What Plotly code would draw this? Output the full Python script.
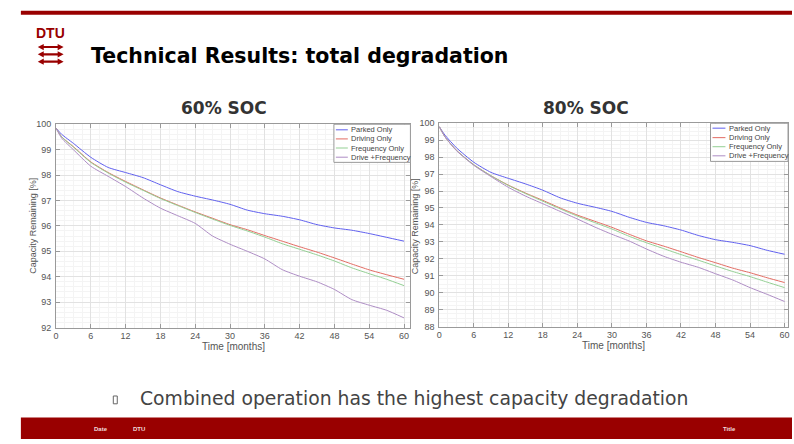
import plotly.graph_objects as go

# ---------------- data ----------------
months = [0, 1, 3, 6, 9, 12, 15, 18, 21, 24, 27, 30, 33, 36, 39, 42, 45, 48, 51, 54, 57, 60]

series_names = ["Parked Only", "Driving Only", "Frequency Only", "Drive +Frequency"]

soc60_parked = [99.85, 99.6, 99.25, 98.7, 98.3, 98.1, 97.9, 97.62, 97.35, 97.17, 97.02, 96.85,
                96.62, 96.48, 96.38, 96.24, 96.05, 95.92, 95.83, 95.7, 95.55, 95.4]
soc60_driving = [99.85, 99.5, 99.12, 98.52, 98.1, 97.75, 97.42, 97.1, 96.82, 96.55, 96.3, 96.05,
                 95.85, 95.62, 95.4, 95.18, 94.97, 94.74, 94.5, 94.27, 94.08, 93.9]
soc60_frequency = [99.85, 99.5, 99.1, 98.5, 98.08, 97.72, 97.4, 97.08, 96.8, 96.53, 96.27, 96.02,
                   95.8, 95.56, 95.3, 95.08, 94.86, 94.62, 94.35, 94.12, 93.9, 93.65]
soc60_combined = [99.85, 99.45, 99.0, 98.35, 97.95, 97.55, 97.1, 96.7, 96.4, 96.1, 95.6, 95.28,
                  95.0, 94.7, 94.28, 94.02, 93.8, 93.5, 93.1, 92.88, 92.68, 92.38]

soc80_parked = [99.8, 99.3, 98.55, 97.7, 97.1, 96.75, 96.42, 96.05, 95.6, 95.28, 95.05, 94.8,
                94.45, 94.15, 93.95, 93.7, 93.38, 93.13, 92.97, 92.78, 92.5, 92.27]
soc80_driving = [99.8, 99.2, 98.4, 97.55, 96.9, 96.35, 95.88, 95.45, 95.0, 94.58, 94.22, 93.86,
                 93.45, 93.06, 92.75, 92.42, 92.08, 91.77, 91.45, 91.18, 90.88, 90.6]
soc80_frequency = [99.8, 99.2, 98.4, 97.55, 96.9, 96.33, 95.85, 95.4, 94.95, 94.52, 94.14, 93.76,
                   93.33, 92.95, 92.6, 92.25, 91.92, 91.58, 91.25, 90.95, 90.62, 90.3]
soc80_combined = [99.8, 99.2, 98.38, 97.52, 96.85, 96.22, 95.7, 95.25, 94.8, 94.35, 93.88, 93.45,
                  93.05, 92.58, 92.15, 91.8, 91.5, 91.12, 90.75, 90.3, 89.9, 89.48]

x_ticks = [0, 6, 12, 18, 24, 30, 36, 42, 48, 54, 60]
y_ticks_60 = [92, 93, 94, 95, 96, 97, 98, 99, 100]
y_ticks_80 = [88, 89, 90, 91, 92, 93, 94, 95, 96, 97, 98, 99, 100]

line_colors = ["#5f5fee", "#e26b62", "#93cf93", "#ad8cc4"]

# ---------------- helpers ----------------
W, H = 794, 444
def px(x):
    return x / W
def py(y):
    return 1 - y / H

FONT = "Liberation Sans, Arial, sans-serif"
WIDE = "DejaVu Sans, Verdana, sans-serif"
DARKRED = "#990000"

fig = go.Figure()

left = [soc60_parked, soc60_driving, soc60_frequency, soc60_combined]
right = [soc80_parked, soc80_driving, soc80_frequency, soc80_combined]
for vals, color, name in zip(left, line_colors, series_names):
    fig.add_trace(go.Scatter(x=months, y=vals, mode="lines", name=name, showlegend=False,
                             line=dict(color=color, width=1, shape="spline", smoothing=0.6),
                             xaxis="x", yaxis="y"))
for vals, color, name in zip(right, line_colors, series_names):
    fig.add_trace(go.Scatter(x=months, y=vals, mode="lines", name=name, showlegend=False,
                             line=dict(color=color, width=1, shape="spline", smoothing=0.6),
                             xaxis="x2", yaxis="y2"))

def axis(domain, rng, tickvals, minor_dtick, anchor):
    return dict(domain=domain, range=rng, tickvals=tickvals, anchor=anchor,
                showline=True, linecolor="#9a9a9a", linewidth=1, mirror="ticks",
                ticks="inside", ticklen=4, tickcolor="#9a9a9a",
                showgrid=True, gridcolor="#e2e2e2", gridwidth=1, zeroline=False,
                tickfont=dict(family=FONT, size=9, color="#555555"),
                minor=dict(showgrid=True, gridcolor="#f4f4f4", gridwidth=1,
                           dtick=minor_dtick, ticks=""))

L = dict(x0=53.3, x1=410, y0=122, y1=330)
R = dict(x0=439, x1=790, y0=121, y1=329)

fig.update_layout(
    width=W, height=H, margin=dict(l=0, r=0, t=0, b=0),
    paper_bgcolor="white", plot_bgcolor="white",
    xaxis=axis([px(L["x0"]), px(L["x1"])], [0, 61.1], x_ticks, 1.5, "y"),
    yaxis=axis([py(L["y1"]), py(L["y0"])], [92, 100], y_ticks_60, 0.2, "x"),
    xaxis2=axis([px(R["x0"]), px(R["x1"])], [0, 60.6], x_ticks, 1.5, "y2"),
    yaxis2=axis([py(R["y1"]), py(R["y0"])], [88, 100], y_ticks_80, 0.25, "x2"),
)
fig.update_yaxes(ticklabelstandoff=2)

shapes = []
ann = []

# top red rule and footer bar
shapes.append(dict(type="rect", xref="paper", yref="paper", x0=px(18), x1=1, y0=py(10), y1=py(6),
                   fillcolor=DARKRED, line=dict(width=0), layer="above"))
shapes.append(dict(type="rect", xref="paper", yref="paper", x0=px(18), x1=1, y0=0, y1=py(422),
                   fillcolor=DARKRED, line=dict(width=0), layer="above"))

# DTU logo
ann.append(dict(text="<b>DTU</b>", x=px(47.5), y=py(29), xref="paper", yref="paper",
                xanchor="center", yanchor="middle", showarrow=False,
                font=dict(family=FONT, size=14, color=DARKRED)))
def arrow_path(yc):
    pts = [(35, yc), (41, yc - 3.2), (41, yc - 1.1), (55, yc - 1.1), (55, yc - 3.2), (61, yc),
           (55, yc + 3.2), (55, yc + 1.1), (41, yc + 1.1), (41, yc + 3.2)]
    s = "M" + " L".join(f"{px(a):.5f},{py(b):.5f}" for a, b in pts) + " Z"
    return s
for yc in [43, 50.5, 58]:
    shapes.append(dict(type="path", xref="paper", yref="paper", path=arrow_path(yc),
                       fillcolor=DARKRED, line=dict(width=0), layer="above"))

# slide title
ann.append(dict(text="<b>Technical Results: total degradation</b>", x=px(87), y=py(52),
                xref="paper", yref="paper", xanchor="left", yanchor="middle", showarrow=False,
                font=dict(family=WIDE, size=20.5, color="#000000")))

# chart titles
for txt, cx in [("60% SOC", 222), ("80% SOC", 587)]:
    ann.append(dict(text=f"<b>{txt}</b>", x=px(cx), y=py(105), xref="paper", yref="paper",
                    xanchor="center", yanchor="middle", showarrow=False,
                    font=dict(family=WIDE, size=17, color="#333333")))

# axis titles
for cx in [30, 415]:
    ann.append(dict(text="Capacity Remaining [%]", x=px(cx), y=py(226), xref="paper", yref="paper",
                    xanchor="center", yanchor="middle", showarrow=False, textangle=-90,
                    font=dict(family=FONT, size=9, color="#555555")))
for cx, cy in [(231.5, 349), (614.5, 348)]:
    ann.append(dict(text="Time [months]", x=px(cx), y=py(cy), xref="paper", yref="paper",
                    xanchor="center", yanchor="middle", showarrow=False,
                    font=dict(family=FONT, size=10, color="#555555")))

# legends (inside, top-right of each panel)
def legend(box, rows, lx0, lx1, tx):
    shapes.append(dict(type="rect", xref="paper", yref="paper",
                       x0=px(box[0]), x1=px(box[1]), y0=py(box[3]), y1=py(box[2]),
                       fillcolor="white", line=dict(color="#9a9a9a", width=1), layer="above"))
    for ry, color, name in zip(rows, line_colors, series_names):
        shapes.append(dict(type="line", xref="paper", yref="paper", x0=px(lx0), x1=px(lx1),
                           y0=py(ry), y1=py(ry), line=dict(color=color, width=1), layer="above"))
        ann.append(dict(text=name, x=px(tx), y=py(ry), xref="paper", yref="paper",
                        xanchor="left", yanchor="middle", showarrow=False,
                        font=dict(family=FONT, size=7.5, color="#444444")))
legend((333, 410, 122, 161), [127.7, 137, 146.3, 155.7], 335, 347, 348)
legend((712, 790, 121, 160), [126, 135.7, 145, 154.3], 714, 727, 729)

# bullet line
shapes.append(dict(type="rect", xref="paper", yref="paper", x0=px(111), x1=px(115),
                   y0=py(408), y1=py(400), line=dict(color="#666666", width=1), fillcolor="rgba(0,0,0,0)"))
ann.append(dict(text="Combined operation has the highest capacity degradation", x=px(136), y=py(403),
                xref="paper", yref="paper", xanchor="left", yanchor="middle", showarrow=False,
                font=dict(family=WIDE, size=18.8, color="#444444")))

# footer texts
for txt, cx in [("Date", 99), ("DTU", 137), ("Title", 731)]:
    ann.append(dict(text=f"<b>{txt}</b>", x=px(cx), y=py(434), xref="paper", yref="paper",
                    xanchor="center", yanchor="middle", showarrow=False,
                    font=dict(family=FONT, size=6, color="#f0dede")))

fig.update_layout(shapes=shapes, annotations=ann)
fig.write_html("out.html", config={"displayModeBar": False},
               post_script="document.body.style.margin='0px';document.body.style.overflow='hidden';")
